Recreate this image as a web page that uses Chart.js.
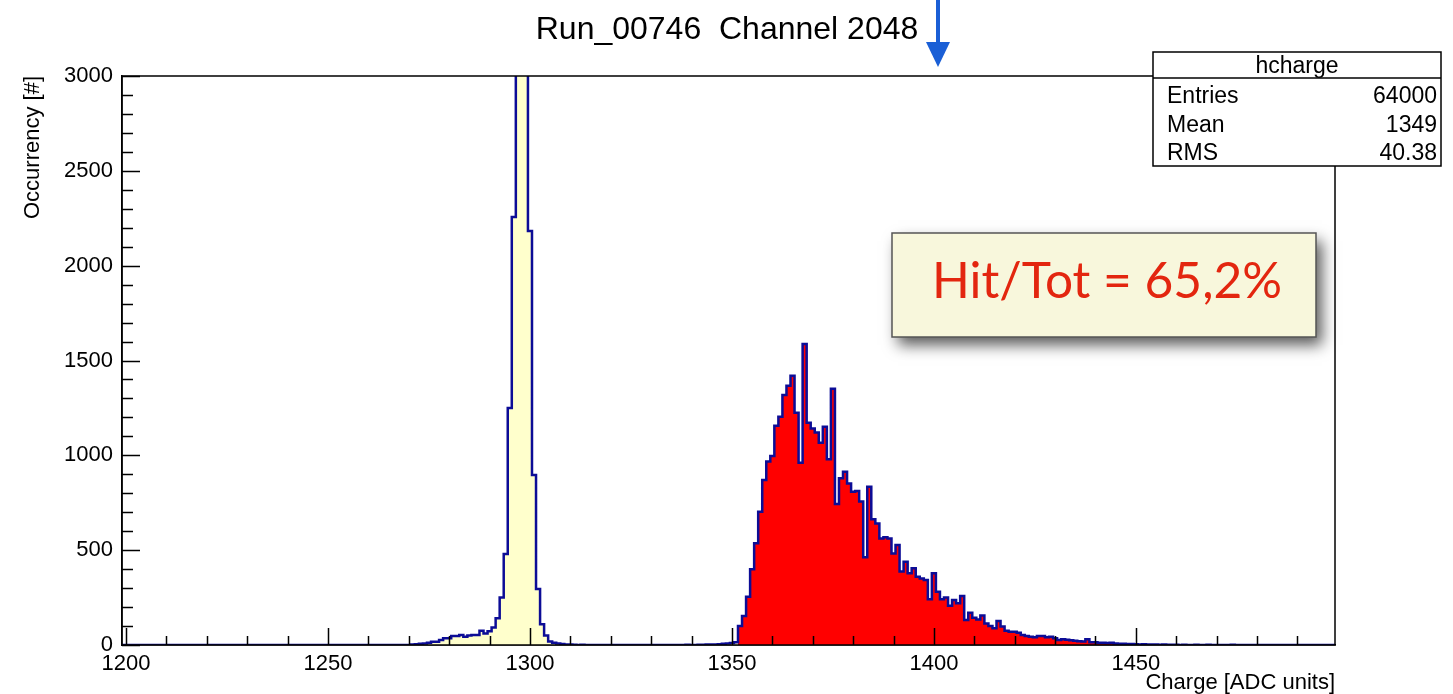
<!DOCTYPE html>
<html>
<head>
<meta charset="utf-8">
<script src="https://cdn.jsdelivr.net/npm/chart.js@4.4.1/dist/chart.umd.min.js"></script>
<style>
  html, body { margin: 0; padding: 0; background: #fff; overflow: hidden; }
  #wrap { width: 1453px; height: 694px; }
</style>
</head>
<body>
<div id="wrap"><canvas id="chart" width="1453" height="694"></canvas></div>
<script>
// --- Data (one bin per ADC unit, bins centred on integers) ---
const firstBin = 1199;
const counts = [
    0,                                                      // 1199
    0, 0, 0, 0, 0, 0, 0, 0, 0, 0,                           // 1200
    0, 0, 0, 0, 0, 0, 0, 0, 0, 0,                           // 1210
    0, 0, 0, 0, 0, 0, 0, 0, 0, 0,                           // 1220
    0, 0, 0, 0, 0, 0, 0, 0, 0, 0,                           // 1230
    0, 0, 0, 0, 0, 0, 0, 0, 0, 0,                           // 1240
    0, 0, 0, 0, 0, 0, 0, 0, 0, 0,                           // 1250
    0, 0, 0, 0, 0, 0, 0, 0, 0, 0,                           // 1260
    0, 3, 4, 6, 8, 12, 17, 17, 26, 35,                      // 1270
    35, 47, 47, 53, 44, 50, 53, 53, 75, 60,                 // 1280
    72, 92, 141, 250, 480, 1250, 2257, 4200, 5200, 4100,    // 1290
    2183, 896, 295, 110, 50, 18, 12, 8, 5, 3,               // 1300
    2, 1, 0, 1, 0, 0, 0, 0, 0, 0,                           // 1310
    0, 0, 0, 0, 0, 0, 0, 0, 0, 0,                           // 1320
    0, 0, 0, 0, 0, 0, 0, 0, 0, 1,                           // 1330
    0, 0, 1, 1, 2, 2, 3, 4, 6, 8,                           // 1340
    10, 14, 100, 153, 255, 399, 536, 703, 870, 967,         // 1350
    996, 1156, 1204, 1318, 1367, 1420, 1225, 961, 1587, 1172, // 1360
    1141, 1120, 1067, 1151, 979, 1351, 743, 879, 914, 852,  // 1370
    808, 812, 756, 463, 835, 663, 640, 562, 568, 562,       // 1380
    483, 527, 387, 439, 378, 404, 360, 351, 343, 241,       // 1390
    378, 281, 241, 251, 207, 237, 220, 258, 132, 170,       // 1400
    144, 135, 155, 114, 100, 88, 127, 97, 75, 70,           // 1410
    70, 65, 53, 47, 44, 41, 47, 47, 41, 44,                 // 1420
    35, 26, 30, 28, 25, 22, 20, 18, 30, 15,                 // 1430
    14, 12, 12, 10, 12, 8, 7, 6, 5, 5,                      // 1440
    4, 3, 4, 2, 2, 3, 1, 2, 1, 1,                           // 1450
    1, 0, 1, 0, 0, 1, 0, 0, 1, 0,                           // 1460
    0, 0, 0, 0, 1, 0, 0, 0, 0, 0,                           // 1470
    0, 0, 0, 0, 0, 0, 0, 0, 0, 0,                           // 1480
    0, 0, 0, 0, 0, 0, 0, 0, 0, 0                            // 1490
];
const firstHitBin = 1352;   // bins from here on are "hits" (red)

const xRange = [1199, 1499.3];
const yRange = [0, 3000];
const xTickValues = [1200, 1250, 1300, 1350, 1400, 1450];
const xMinorTicks = [1200, 1490, 10];   // from, to, step
const yTickStep = 500;
const yMinorStep = 100;

const titleText = 'Run_00746  Channel 2048';
const xTitle = 'Charge [ADC units]';
const yTitle = 'Occurrency [#]';
const statsName = 'hcharge';
const statsLabels = ['Entries', 'Mean', 'RMS'];
const statsValues = ['64000', '1349', '40.38'];
const hitText = 'Hit/Tot = 65,2%';

// --- Styling ---
const FONT = '"Liberation Sans", Arial, Helvetica, sans-serif';
const LINE_BLUE = 'rgb(12, 12, 150)';
const PEDESTAL_FILL = '#ffffcc';
const HIT_FILL = '#ff0000';

// stepped points: left edge of every bin, plus the right edge of the last one
function stepPoints(kFrom, kTo) {
    const pts = [];
    for (let k = kFrom; k <= kTo; k++) {
        pts.push({ x: k - 0.5, y: counts[k - firstBin] });
    }
    pts.push({ x: kTo + 0.5, y: counts[kTo - firstBin] });
    return pts;
}
const lastBin = firstBin + counts.length - 1;

// --- Extra drawing: ROOT style inner ticks, frame, title, boxes ---
const rootDecor = {
    id: 'rootDecor',
    afterDatasetsDraw(chart) {
        const { ctx, chartArea: a, scales: { x, y } } = chart;
        ctx.save();
        ctx.strokeStyle = '#000';
        ctx.lineWidth = 1.5;
        ctx.beginPath();
        for (let v = xMinorTicks[0]; v <= xMinorTicks[1]; v += xMinorTicks[2]) {
            const px = Math.round(x.getPixelForValue(v)) + 0.5;
            const len = v % 50 === 0 ? 17 : 9;
            ctx.moveTo(px, a.bottom);
            ctx.lineTo(px, a.bottom - len);
        }
        for (let v = yRange[0]; v <= yRange[1]; v += yMinorStep) {
            const py = Math.round(y.getPixelForValue(v)) + 0.5;
            const len = v % yTickStep === 0 ? 18 : 11;
            ctx.moveTo(a.left, py);
            ctx.lineTo(a.left + len, py);
        }
        ctx.stroke();
        ctx.strokeRect(a.left, a.top, a.right - a.left, a.bottom - a.top);
        ctx.restore();
    },
    afterDraw(chart) {
        const ctx = chart.ctx;
        ctx.save();

        // title
        ctx.fillStyle = '#000';
        ctx.font = `32px ${FONT}`;
        ctx.textAlign = 'center';
        ctx.textBaseline = 'alphabetic';
        ctx.fillText(titleText, 727, 39);

        // stats box
        ctx.fillStyle = '#fff';
        ctx.fillRect(1153, 52, 288, 114);
        ctx.strokeStyle = '#000';
        ctx.lineWidth = 1.5;
        ctx.strokeRect(1153, 52, 288, 114);
        ctx.beginPath();
        ctx.moveTo(1153, 78);
        ctx.lineTo(1441, 78);
        ctx.stroke();
        ctx.fillStyle = '#000';
        ctx.font = `23px ${FONT}`;
        ctx.textAlign = 'center';
        ctx.fillText(statsName, 1297, 73);
        statsLabels.forEach((lab, i) => {
            const by = 103 + i * 28.5;
            ctx.textAlign = 'left';
            ctx.fillText(lab, 1167, by);
            ctx.textAlign = 'right';
            ctx.fillText(statsValues[i], 1437, by);
        });

        // Hit/Tot box with drop shadow
        ctx.save();
        ctx.shadowColor = 'rgba(0,0,0,0.65)';
        ctx.shadowBlur = 14;
        ctx.shadowOffsetX = 6;
        ctx.shadowOffsetY = 8;
        ctx.fillStyle = '#f8f7dc';
        ctx.fillRect(892, 233, 424, 104);
        ctx.restore();
        ctx.strokeStyle = '#555';
        ctx.lineWidth = 1.5;
        ctx.strokeRect(892, 233, 424, 104);
        let size = 50;
        ctx.font = `${size}px Lato, "Open Sans", sans-serif`;
        size = size * 350 / ctx.measureText(hitText).width;
        ctx.font = `${size}px Lato, "Open Sans", sans-serif`;
        ctx.fillStyle = '#e3260f';
        ctx.textAlign = 'center';
        ctx.fillText(hitText, 1107, 298);

        // blue arrow above the plot
        ctx.fillStyle = '#1a5fd6';
        ctx.fillRect(936, 0, 4, 46);
        ctx.beginPath();
        ctx.moveTo(926, 42);
        ctx.lineTo(950, 42);
        ctx.lineTo(938, 67);
        ctx.closePath();
        ctx.fill();

        ctx.restore();
    }
};

const tickFont = { family: FONT, size: 22 };

new Chart(document.getElementById('chart'), {
    type: 'line',
    data: {
        datasets: [
            {   // outline over everything
                data: stepPoints(firstBin, lastBin),
                stepped: true,
                borderColor: LINE_BLUE,
                borderWidth: 2.5,
                fill: false,
                pointRadius: 0
            },
            {
                data: stepPoints(firstBin, firstHitBin - 1),
                stepped: true,
                borderWidth: 0,
                borderColor: 'rgba(0,0,0,0)',
                backgroundColor: PEDESTAL_FILL,
                fill: 'origin',
                pointRadius: 0
            },
            {
                data: stepPoints(firstHitBin, lastBin),
                stepped: true,
                borderWidth: 0,
                borderColor: 'rgba(0,0,0,0)',
                backgroundColor: HIT_FILL,
                fill: 'origin',
                pointRadius: 0
            }
        ]
    },
    options: {
        responsive: false,
        devicePixelRatio: 1,
        animation: false,
        layout: { padding: { top: 76, right: 118, bottom: 0, left: 0 } },
        plugins: {
            legend: { display: false },
            tooltip: { enabled: false },
            title: { display: false }
        },
        scales: {
            x: {
                type: 'linear',
                min: xRange[0],
                max: xRange[1],
                afterBuildTicks: (s) => { s.ticks = xTickValues.map(v => ({ value: v })); },
                afterFit: (s) => { s.height = 49; },
                ticks: {
                    font: tickFont, color: '#000', padding: 6,
                    maxRotation: 0, autoSkip: false,
                    callback: (v) => String(v)
                },
                grid: { display: false, drawTicks: false },
                border: { display: true, color: '#000', width: 1.5 },
                title: {
                    display: true, text: xTitle, align: 'end', color: '#000',
                    font: { family: FONT, size: 22, lineHeight: 1 }, padding: 0
                }
            },
            y: {
                type: 'linear',
                min: yRange[0],
                max: yRange[1],
                afterFit: (s) => { s.width = 122; },
                ticks: {
                    stepSize: yTickStep, font: tickFont, color: '#000', padding: 9,
                    callback: (v) => String(v)
                },
                grid: { display: false, drawTicks: false },
                border: { display: true, color: '#000', width: 1.5 },
                title: {
                    display: true, text: yTitle, align: 'end', color: '#000',
                    font: { family: FONT, size: 22, lineHeight: 1 }, padding: { top: 22, bottom: 0 }
                }
            }
        }
    },
    plugins: [rootDecor]
});
</script>
</body>
</html>
